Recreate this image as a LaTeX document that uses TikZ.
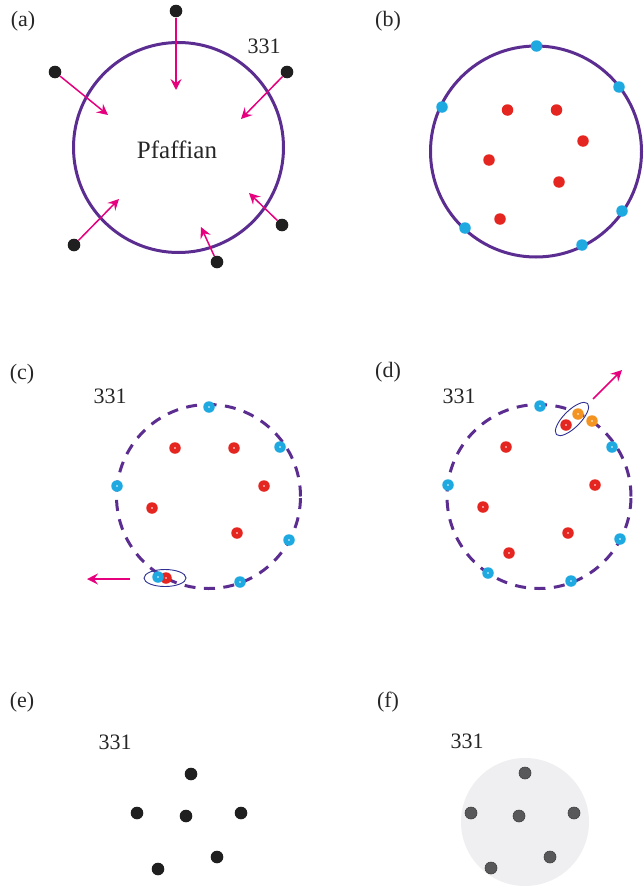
\documentclass[tikz,border=0pt]{standalone}
\usepackage{fontspec}
\setmainfont{Liberation Serif}
\usetikzlibrary{arrows.meta,shapes.geometric}
\definecolor{ringpurple}{RGB}{92,45,145}
\definecolor{arrmag}{RGB}{230,0,126}
\definecolor{qcyan}{RGB}{31,169,225}
\definecolor{qred}{RGB}{229,37,32}
\definecolor{qorange}{RGB}{243,147,34}
\definecolor{qgrayfill}{RGB}{239,239,241}
\definecolor{qgraydot}{RGB}{88,88,90}
\definecolor{elblue}{RGB}{46,49,146}
\tikzset{
  lbl/.style={font=\fontsize{22}{24}\selectfont, inner sep=0pt, text=black!85},
  ring/.style={draw=ringpurple, line width=3pt},
  dring/.style={draw=ringpurple, line width=3pt, dash pattern=on 11pt off 8.5pt},
  bdot/.style={circle, fill=black!88, inner sep=0pt, minimum size=12.6pt},
  cdot/.style={circle, fill=qcyan, inner sep=0pt, minimum size=11.5pt},
  rdot/.style={circle, fill=qred, inner sep=0pt, minimum size=11.5pt},
  odot/.style={circle, fill=qorange, inner sep=0pt, minimum size=11.5pt},
  ctr/.style={path picture={\fill[white] (path picture bounding box.center) circle (0.8pt);}},
  gdot/.style={circle, fill=qgraydot, draw=black!75, line width=0.6pt, inner sep=0pt, minimum size=12pt},
  marr/.style={draw=arrmag, line width=1.5pt, -{Stealth[length=11pt,width=11pt,inset=4pt]}},
  pair/.style={ellipse, draw=elblue, line width=0.9pt, inner sep=0pt},
}
\begin{document}
\begin{tikzpicture}[x=1pt,y=-1pt]
\useasboundingbox (0,0) rectangle (644,886);

% ---------- (a)
\node[lbl] (la) at (23,21) {(a)};
\node[circle, ring, minimum size=210pt, inner sep=0pt] (ringa) at (178.5,147.5) {};
\node[lbl] (a331) at (264,46) {331};
\node[lbl, font=\fontsize{25}{27}\selectfont] (pf) at (177,150) {Pfaffian};
\node[bdot] (a1) at (176,11) {};
\node[bdot] (a2) at (55,72) {};
\node[bdot] (a3) at (287,72) {};
\node[bdot] (a4) at (74,245) {};
\node[bdot] (a5) at (282,225) {};
\node[bdot] (a6) at (217,262) {};
\coordinate (t1) at (176,90);
\coordinate (t2) at (108,115);
\coordinate (t3) at (241,119);
\coordinate (t4) at (119,199);
\coordinate (t5) at (249,193);
\coordinate (t6) at (201,227);
\foreach \i in {1,...,6} \draw[marr] (a\i) -- (t\i);

% ---------- (b)
\node[lbl] (lb) at (388,21) {(b)};
\node[circle, ring, minimum size=211pt, inner sep=0pt] (ringb) at (536,151.5) {};
\foreach \p/\n in {{(536.5,46)}/1,{(619,87)}/2,{(442,107)}/3,{(622,211)}/4,{(465,228)}/5,{(582,245)}/6}
  \node[cdot] (bc\n) at \p {};
\foreach \p/\n in {{(507.5,110)}/1,{(556.5,110)}/2,{(583,141)}/3,{(489,160)}/4,{(559,182)}/5,{(500,219)}/6}
  \node[rdot] (br\n) at \p {};

% ---------- (c)
\node[lbl] (lc) at (22,374) {(c)};
\node[lbl] (c331) at (110,396) {331};
\node[circle, dring, minimum size=184pt, inner sep=0pt] (ringc) at (208.5,496.5) {};
\foreach \p/\n in {{(175,448)}/1,{(234,448)}/2,{(264,486)}/3,{(152,508)}/4,{(237,533)}/5,{(166,578)}/6}
  \node[rdot,ctr] (cr\n) at \p {};
\foreach \p/\n in {{(209,407)}/1,{(280,447)}/2,{(117,486)}/3,{(289,540)}/4,{(240,582)}/5,{(158,577)}/6}
  \node[cdot,ctr] (cc\n) at \p {};
\node[pair, minimum width=42pt, minimum height=17pt] (elc) at (165,578) {};
\coordinate (cs) at (130,579);
\coordinate (ct) at (87,579);
\draw[marr] (cs) -- (ct);

% ---------- (d)
\node[lbl] (ld) at (388,372) {(d)};
\node[lbl] (d331) at (459,396) {331};
\node[circle, dring, minimum size=184pt, inner sep=0pt] (ringd) at (539,496.5) {};
\foreach \p/\n in {{(506,447)}/1,{(595,485)}/2,{(483,507)}/3,{(568,533)}/4,{(509,553)}/5,{(566,425)}/6}
  \node[rdot,ctr] (dr\n) at \p {};
\foreach \p/\n in {{(540,406)}/1,{(612,447)}/2,{(448,485)}/3,{(620,539)}/4,{(488,573)}/5,{(571,581)}/6}
  \node[cdot,ctr] (dc\n) at \p {};
\node[odot,ctr] (do1) at (578,414) {};
\node[odot,ctr] (do2) at (592,421) {};
\node[pair, minimum width=44pt, minimum height=17pt, rotate=45] (eld) at (572,419) {};
\coordinate (ds) at (593,399);
\coordinate (dt) at (622,370);
\draw[marr] (ds) -- (dt);

% ---------- (e)
\node[lbl] (le) at (22,702) {(e)};
\node[lbl] (e331) at (115,742) {331};
\foreach \p/\n in {{(191,774)}/1,{(137,813)}/2,{(186,816)}/3,{(241,813)}/4,{(217,857)}/5,{(158,869)}/6}
  \node[bdot] (e\n) at \p {};

% ---------- (f)
\node[lbl] (lf) at (388,702) {(f)};
\node[lbl] (f331) at (467,741) {331};
\node[circle, fill=qgrayfill, minimum size=128pt, inner sep=0pt] (disk) at (525,822) {};
\foreach \p/\n in {{(525,773)}/1,{(471,813)}/2,{(519,816)}/3,{(574,813)}/4,{(550,857)}/5,{(491,868)}/6}
  \node[gdot] (f\n) at \p {};
\end{tikzpicture}
\end{document}
